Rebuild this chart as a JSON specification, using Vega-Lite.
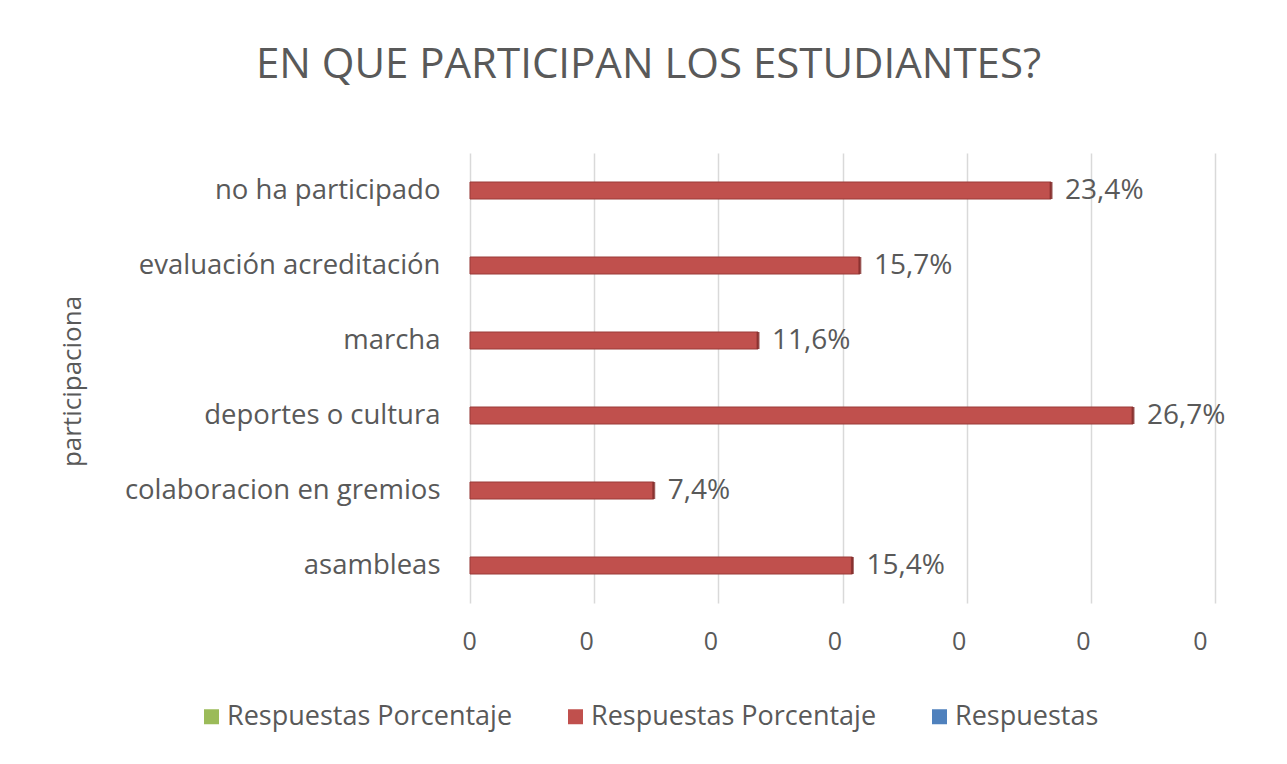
{
  "$schema": "https://vega.github.io/schema/vega-lite/v6.json",
  "autosize": {"type": "none"},
  "width": 745,
  "height": 450,
  "padding": {"left": 470, "top": 153, "right": 72, "bottom": 161},
  "background": "white",
  "config": {
    "font": "Open Sans",
    "view": {"stroke": null},
    "locale": {"number": {"decimal": ",", "thousands": ".", "grouping": [3], "currency": ["", " €"]}}
  },
  "title": {
    "text": "EN QUE PARTICIPAN LOS ESTUDIANTES?",
    "fontSize": 42,
    "fontWeight": "normal",
    "color": "#595959",
    "font": "Open Sans",
    "anchor": "middle",
    "dx": -194,
    "offset": 66
  },
  "data": {
    "values": [
      {"participaciona": "no ha participado", "pct": 0.234, "series": "Respuestas Porcentaje "},
      {"participaciona": "evaluación acreditación", "pct": 0.157, "series": "Respuestas Porcentaje "},
      {"participaciona": "marcha", "pct": 0.116, "series": "Respuestas Porcentaje "},
      {"participaciona": "deportes o cultura", "pct": 0.267, "series": "Respuestas Porcentaje "},
      {"participaciona": "colaboracion en gremios", "pct": 0.074, "series": "Respuestas Porcentaje "},
      {"participaciona": "asambleas", "pct": 0.154, "series": "Respuestas Porcentaje "}
    ]
  },
  "encoding": {
    "y": {
      "field": "participaciona",
      "type": "nominal",
      "sort": null,
      "title": "participaciona",
      "axis": {
        "domain": false,
        "ticks": false,
        "labelFontSize": 27.5,
        "labelColor": "#595959",
        "labelPadding": 30,
        "labelLimit": 450,
        "titleFontSize": 26,
        "titleFontWeight": "normal",
        "titleColor": "#595959",
        "titleX": -398,
        "titleY": 228,
        "titleAngle": -90,
        "titleAlign": "center",
        "titleBaseline": "middle"
      }
    },
    "x": {
      "field": "pct",
      "type": "quantitative",
      "scale": {"domain": [0, 0.3], "nice": false},
      "title": null,
      "axis": {
        "values": [0, 0.05, 0.1, 0.15, 0.2, 0.25, 0.3],
        "format": ".0f",
        "domain": false,
        "ticks": false,
        "grid": true,
        "gridColor": "#d9d9d9",
        "gridWidth": 1.5,
        "labelFontSize": 25,
        "labelColor": "#595959",
        "labelPadding": 26,
        "labelOffset": -8
      }
    }
  },
  "layer": [
    {
      "mark": {"type": "bar", "size": 17, "stroke": "#9a3b39", "strokeWidth": 1},
      "encoding": {
        "color": {
          "field": "series",
          "type": "nominal",
          "scale": {
            "domain": ["Respuestas Porcentaje", "Respuestas Porcentaje ", "Respuestas"],
            "range": ["#9bbb59", "#c0504d", "#4f81bd"]
          },
          "legend": {
            "title": null,
            "orient": "none",
            "direction": "horizontal",
            "legendX": -272,
            "legendY": 550,
            "symbolType": "square",
            "symbolSize": 225,
            "symbolStrokeWidth": 0,
            "labelFontSize": 27,
            "labelColor": "#595959",
            "labelOffset": 2,
            "columnPadding": 49,
            "labelLimit": 450
          }
        }
      }
    },
    {
      "mark": {"type": "tick", "size": 17, "thickness": 3, "color": "#7d2a28"},
      "encoding": {}
    },
    {
      "mark": {"type": "text", "align": "left", "baseline": "middle", "dx": 14, "fontSize": 28, "color": "#595959"},
      "encoding": {"text": {"field": "pct", "type": "quantitative", "format": ".1%"}}
    }
  ]
}
